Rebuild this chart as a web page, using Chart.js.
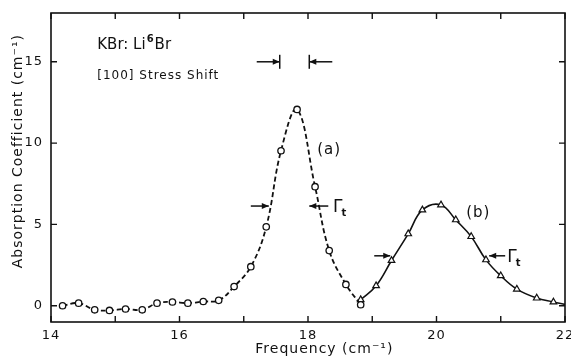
<!DOCTYPE html>
<html>
<head>
<meta charset="utf-8">
<script src="https://cdn.jsdelivr.net/npm/chart.js@4"></script>
<style>
  body { margin: 0; background: #fff; }
  #wrap { width: 571px; height: 358px; }
</style>
</head>
<body>
<div id="wrap"><canvas id="myChart" width="571" height="358"></canvas></div>
<script>
// curve (a): circles, dashed
const freqA = [14.18, 14.43, 14.68, 14.91, 15.16, 15.42, 15.65, 15.89, 16.13, 16.37,
  16.61, 16.85, 17.11, 17.35, 17.58, 17.83, 18.11, 18.33, 18.59, 18.82];
const absA = [0.0, 0.16, -0.25, -0.29, -0.2, -0.25, 0.16, 0.23, 0.16, 0.26,
  0.33, 1.18, 2.4, 4.85, 9.53, 12.07, 7.32, 3.39, 1.31, 0.06];
// curve (b): triangles, solid (last value is the end of the drawn curve)
const freqB = [18.82, 19.06, 19.3, 19.56, 19.78, 20.07, 20.3, 20.54, 20.77, 21.0,
  21.25, 21.56, 21.82, 22.0];
const absB = [0.37, 1.23, 2.78, 4.42, 5.89, 6.2, 5.28, 4.25, 2.82, 1.84,
  1.02, 0.47, 0.23, 0.08];
const xTicks = [14, 15, 16, 17, 18, 19, 20, 21, 22];
const xLabels = [14, 16, 18, 20, 22];
const yTicks = [0, 5, 10, 15];

const ink = "#111";
const font = "DejaVu Sans";

function toPoints(xs, ys) {
  return xs.map((x, i) => ({ x: x, y: ys[i] }));
}

function arrow(ctx, x1, y1, x2, y2) {
  // line from (x1,y1) to tip (x2,y2)
  const a = Math.atan2(y2 - y1, x2 - x1);
  ctx.beginPath();
  ctx.moveTo(x1, y1);
  ctx.lineTo(x2, y2);
  ctx.stroke();
  ctx.beginPath();
  ctx.moveTo(x2, y2);
  ctx.lineTo(x2 - 7 * Math.cos(a) + 3 * Math.sin(a), y2 - 7 * Math.sin(a) - 3 * Math.cos(a));
  ctx.lineTo(x2 - 7 * Math.cos(a) - 3 * Math.sin(a), y2 - 7 * Math.sin(a) + 3 * Math.cos(a));
  ctx.closePath();
  ctx.fill();
}

function gammaT(ctx, x, y) {
  ctx.textAlign = "left";
  ctx.textBaseline = "alphabetic";
  ctx.font = "17px " + font;
  ctx.fillText("Γ", x, y + 6);
  const w = ctx.measureText("Γ").width;
  ctx.font = "bold 10px " + font;
  ctx.fillText("t", x + w - 2, y + 10);
}

const framePlugin = {
  id: "frame",
  beforeDraw(chart) {
    chart.ctx.letterSpacing = "1px";
  },
  afterDraw(chart) {
    const ctx = chart.ctx;
    const a = chart.chartArea;
    const xs = chart.scales.x, ys = chart.scales.y;
    ctx.save();
    ctx.strokeStyle = ink;
    ctx.fillStyle = ink;
    ctx.lineWidth = 1.6;
    ctx.strokeRect(a.left, a.top, a.right - a.left, a.bottom - a.top);
    ctx.lineWidth = 1.4;
    xTicks.forEach((v) => {
      const px = xs.getPixelForValue(v);
      ctx.beginPath();
      ctx.moveTo(px, a.bottom);
      ctx.lineTo(px, a.bottom - 6);
      ctx.moveTo(px, a.top);
      ctx.lineTo(px, a.top + 6);
      ctx.stroke();
    });
    yTicks.forEach((v) => {
      const py = ys.getPixelForValue(v);
      ctx.beginPath();
      ctx.moveTo(a.left, py);
      ctx.lineTo(a.left + 6, py);
      ctx.moveTo(a.right, py);
      ctx.lineTo(a.right - 6, py);
      ctx.stroke();
    });

    // texts
    const X = (v) => xs.getPixelForValue(v);
    const Y = (v) => ys.getPixelForValue(v);
    ctx.textAlign = "left";
    ctx.textBaseline = "alphabetic";
    ctx.letterSpacing = "0px";
    ctx.font = "15px " + font;
    let tx = X(14.72), ty = Y(15.77);
    ctx.fillText("KBr: Li", tx, ty);
    tx += ctx.measureText("KBr: Li").width + 1;
    ctx.font = "bold 10px " + font;
    ctx.fillText("6", tx, ty - 7);
    tx += ctx.measureText("6").width + 1;
    ctx.font = "15px " + font;
    ctx.fillText("Br", tx, ty);
    ctx.letterSpacing = "1px";
    ctx.font = "12px " + font;
    ctx.fillText("[100] Stress Shift", X(14.72), Y(13.93));

    ctx.font = "15px " + font;
    ctx.textAlign = "center";
    ctx.textBaseline = "middle";
    ctx.fillText("(a)", X(18.33), Y(9.57));
    ctx.fillText("(b)", X(20.65), Y(5.7));

    // stress shift markers
    ctx.lineWidth = 1.5;
    let p = X(17.56), q = Y(15.0);
    arrow(ctx, p - 23, q, p, q);
    ctx.beginPath(); ctx.moveTo(p, q - 7); ctx.lineTo(p, q + 7); ctx.stroke();
    p = X(18.02);
    arrow(ctx, p + 23, q, p, q);
    ctx.beginPath(); ctx.moveTo(p, q - 7); ctx.lineTo(p, q + 7); ctx.stroke();

    // half widths
    q = Y(6.13);
    arrow(ctx, X(17.39) - 18, q, X(17.39), q);
    arrow(ctx, X(18.02) + 19, q, X(18.02), q);
    gammaT(ctx, X(18.39), q);
    q = Y(3.07);
    arrow(ctx, X(19.28) - 16, q, X(19.28), q);
    arrow(ctx, X(20.82) + 16, q, X(20.82), q);
    gammaT(ctx, X(21.1), q);
    ctx.restore();
  },
};

const ctx = document.getElementById("myChart").getContext("2d");
const myChart = new Chart(ctx, {
  type: "line",
  data: {
    datasets: [
      {
        label: "(a)",
        data: toPoints(freqA, absA),
        borderColor: ink,
        borderWidth: 1.8,
        borderDash: [5, 3],
        tension: 0.4,
        pointStyle: "circle",
        pointRadius: 3.2,
        pointBorderWidth: 1.3,
        pointBorderColor: ink,
        pointBackgroundColor: "#fff",
      },
      {
        label: "(b)",
        data: toPoints(freqB, absB),
        borderColor: ink,
        borderWidth: 1.6,
        tension: 0.4,
        pointStyle: "triangle",
        pointRadius: (c) => (c.dataIndex === absB.length - 1 ? 0 : 3.8),
        pointBorderWidth: 1.2,
        pointBorderColor: ink,
        pointBackgroundColor: "#fff",
      },
    ],
  },
  options: {
    responsive: false,
    animation: false,
    layout: { padding: { top: 13, right: 6, left: 0, bottom: 0 } },
    plugins: {
      legend: { display: false },
      tooltip: { enabled: false },
    },
    scales: {
      x: {
        type: "linear",
        min: 14,
        max: 22,
        afterBuildTicks: (s) => {
          s.ticks = xLabels.map((v) => ({ value: v }));
        },
        afterFit: (s) => {
          s.height = 36;
          s.paddingLeft = 0;
          s.paddingRight = 0;
        },
        grid: { display: false, drawTicks: false },
        border: { display: false },
        ticks: {
          color: ink,
          padding: 6,
          font: { family: font, size: 13 },
        },
        title: {
          display: true,
          text: "      Frequency (cm⁻¹)",
          color: ink,
          padding: { top: 0, bottom: 0 },
          font: { family: font, size: 14 },
        },
      },
      y: {
        type: "linear",
        min: -1,
        max: 18,
        afterBuildTicks: (s) => {
          s.ticks = yTicks.map((v) => ({ value: v }));
        },
        afterFit: (s) => {
          s.width = 51;
          s.paddingTop = 0;
          s.paddingBottom = 0;
        },
        grid: { display: false, drawTicks: false },
        border: { display: false },
        ticks: {
          color: ink,
          padding: 8,
          font: { family: font, size: 13 },
        },
        title: {
          display: true,
          text: "      Absorption Coefficient (cm⁻¹)",
          color: ink,
          padding: { top: 10, bottom: 0 },
          font: { family: font, size: 14 },
        },
      },
    },
  },
  plugins: [framePlugin],
});
</script>
</body>
</html>
